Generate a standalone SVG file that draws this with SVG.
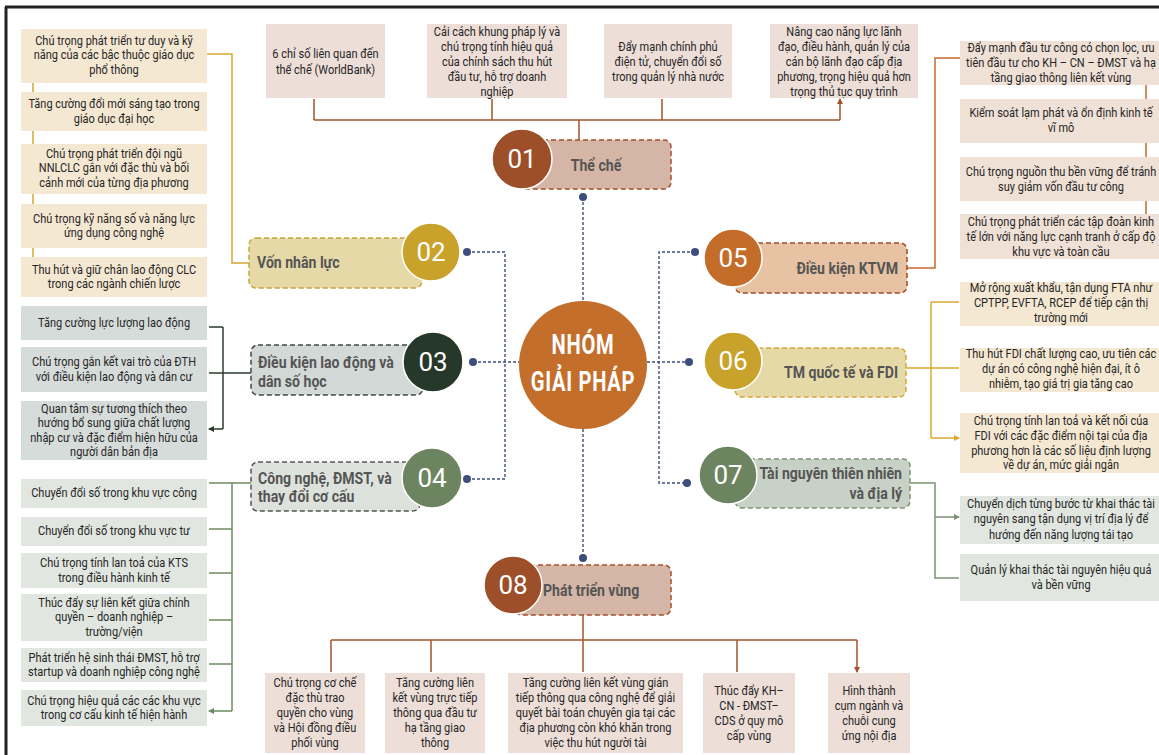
<svg xmlns="http://www.w3.org/2000/svg" width="1159" height="755" viewBox="0 0 1159 755">
<style>
.it{font-family:Roboto,"Liberation Sans",sans-serif;font-size:12.5px;fill:#262626;text-anchor:middle}
.lb{font-family:Roboto,"Liberation Sans",sans-serif;font-size:16px;font-weight:bold;fill:#555}
.num{font-family:Roboto,"Liberation Sans",sans-serif;font-size:26px;fill:#fff;text-anchor:middle}
.ttl{font-family:Roboto,"Liberation Sans",sans-serif;font-size:28px;font-weight:bold;fill:#fff;text-anchor:middle;letter-spacing:1px}
.nav{fill:none;stroke:#3E4E7C;stroke-width:1.4;stroke-dasharray:3 2}
.dot{fill:#3E4E7C}
.c{fill:none;stroke-width:1.5}
.bx{stroke-width:1.5;stroke-dasharray:5 3}
</style>
<defs>
<marker id="aBr" viewBox="0 0 6 6" refX="5" refY="3" markerWidth="6" markerHeight="6" markerUnits="userSpaceOnUse" orient="auto"><path d="M0,0 L6,3 L0,6 z" fill="#A3542E"/></marker>
<marker id="aDk" viewBox="0 0 6 6" refX="5" refY="3" markerWidth="6" markerHeight="6" markerUnits="userSpaceOnUse" orient="auto"><path d="M0,0 L6,3 L0,6 z" fill="#2C3B2F"/></marker>
<marker id="aGr" viewBox="0 0 6 6" refX="5" refY="3" markerWidth="6" markerHeight="6" markerUnits="userSpaceOnUse" orient="auto"><path d="M0,0 L6,3 L0,6 z" fill="#6E8A62"/></marker>
<marker id="aYe" viewBox="0 0 6 6" refX="5" refY="3" markerWidth="6" markerHeight="6" markerUnits="userSpaceOnUse" orient="auto"><path d="M0,0 L6,3 L0,6 z" fill="#D9A830"/></marker>
<marker id="aG2" viewBox="0 0 6 6" refX="5" refY="3" markerWidth="6" markerHeight="6" markerUnits="userSpaceOnUse" orient="auto"><path d="M0,0 L6,3 L0,6 z" fill="#7C9473"/></marker>
</defs>
<rect x="0" y="0" width="1159" height="755" fill="#fff"/>
<path d="M5,7 H1159 M6,7 V755" fill="none" stroke="#222" stroke-width="3"/>

<g id="connectors">
<path class="nav" d="M583,197 V301 M583,429 V558"/>
<path class="nav" d="M467,252 H505 V479 H467 M473,362 H519"/>
<path class="nav" d="M695,252 H659 V483 H687 M647,362 H689"/>
<circle class="dot" cx="583" cy="197" r="4"/><circle class="dot" cx="583" cy="558" r="4"/>
<circle class="dot" cx="467" cy="252" r="4"/><circle class="dot" cx="473" cy="362" r="4"/><circle class="dot" cx="467" cy="479" r="4"/>
<circle class="dot" cx="695" cy="252" r="4"/><circle class="dot" cx="689" cy="362" r="4"/><circle class="dot" cx="687" cy="483" r="4"/>
<path class="c" stroke="#A3542E" d="M579,140 V120 M314,120 H840"/>
<path class="c" stroke="#A3542E" marker-end="url(#aBr)" d="M314,120 V99 M492,120 V99 M662,120 V99 M840,120 V99"/>
<path class="c" stroke="#A3542E" d="M583,615 V640 M331,640 H857"/>
<path class="c" stroke="#A3542E" marker-end="url(#aBr)" d="M331,640 V672 M431,640 V672 M583,640 V672 M737,640 V672 M857,640 V672"/>
<path class="c" stroke="#D4A830" d="M207,54 H232 V263 H249 M33,83 V92 M33,131 V144 M33,194 V204 M33,248 V257"/>
<path class="c" stroke="#2C3B2F" d="M223,327 V429"/>
<path class="c" stroke="#2C3B2F" marker-end="url(#aDk)" d="M251,373 H209 M223,327 H209 M223,429 H209"/>
<path class="c" stroke="#6E8A62" d="M232,483 V711"/>
<path class="c" stroke="#6E8A62" marker-end="url(#aGr)" d="M251,483 H209 M232,529 H209 M232,573 H209 M232,620 H209 M232,664 H209 M232,711 H209"/>
<path class="c" stroke="#C8692E" d="M907,268 H935 V58 H960 M1146,85 V99 M1146,143 V157 M1146,201 V214"/>
<path class="c" stroke="#D9A830" d="M931,302 V438"/>
<path class="c" stroke="#D9A830" marker-end="url(#aYe)" d="M906,368 H959 M931,302 H959 M931,438 H959"/>
<path class="c" stroke="#7C9473" marker-end="url(#aG2)" d="M910,483 H935 V578 H959 M935,517 H959"/>
</g>

<g id="center">
<circle cx="583" cy="365" r="64" fill="#C46E2B"/>
<text class="ttl" transform="translate(583,0) scale(0.72,1)"><tspan x="0" y="354">NHÓM</tspan><tspan x="0" y="391">GIẢI PHÁP</tspan></text>
</g>

<g id="n01">
<rect class="bx" x="520" y="140" width="151" height="49" rx="7" fill="#D5B6A6" stroke="#A2502A"/>
<circle cx="522" cy="159" r="30" fill="#9C4F28" stroke="#fff" stroke-width="1.5"/>
<text class="num" x="522" y="168">01</text>
<text class="lb" text-anchor="middle" transform="translate(596,0) scale(0.88,1)" x="0" y="171">Thể chế</text>
</g>

<g id="n02">
<rect class="bx" x="249" y="238" width="173" height="50" rx="7" fill="#E6D9A8" stroke="#C9A43A"/>
<circle cx="431" cy="252" r="29" fill="#C9A22C" stroke="#fff" stroke-width="1.5"/>
<text class="num" x="431" y="261">02</text>
<text class="lb" transform="translate(257,0) scale(0.88,1)" x="0" y="268">Vốn nhân lực</text>
</g>

<g id="n03">
<rect class="bx" x="251" y="345" width="172" height="50" rx="7" fill="#D3D9D6" stroke="#444"/>
<circle cx="433" cy="362" r="30" fill="#263829" stroke="#fff" stroke-width="1.5"/>
<text class="num" x="433" y="371">03</text>
<text class="lb" transform="translate(258,0) scale(0.88,1)"><tspan x="0" y="368">Điều kiện lao động và</tspan><tspan x="0" y="387">dân số học</tspan></text>
</g>

<g id="n04">
<rect class="bx" x="251" y="462" width="169" height="49" rx="7" fill="#DDE3DC" stroke="#555"/>
<circle cx="432" cy="478" r="30" fill="#6D8460" stroke="#fff" stroke-width="1.5"/>
<text class="num" x="432" y="487">04</text>
<text class="lb" transform="translate(258,0) scale(0.88,1)"><tspan x="0" y="484">Công nghệ, ĐMST, và</tspan><tspan x="0" y="502">thay đổi cơ cấu</tspan></text>
</g>

<g id="n05">
<rect class="bx" x="735" y="243" width="172" height="50" rx="7" fill="#E7C3A3" stroke="#A24B25"/>
<circle cx="733" cy="258" r="29" fill="#C46D2A" stroke="#fff" stroke-width="1.5"/>
<text class="num" x="733" y="267">05</text>
<text class="lb" text-anchor="end" transform="translate(898,0) scale(0.88,1)" x="0" y="274">Điều kiện KTVM</text>
</g>

<g id="n06">
<rect class="bx" x="735" y="348" width="171" height="49" rx="7" fill="#E6D9A8" stroke="#D1A83A"/>
<circle cx="733" cy="361" r="29" fill="#C9A22C" stroke="#fff" stroke-width="1.5"/>
<text class="num" x="733" y="370">06</text>
<text class="lb" text-anchor="end" transform="translate(898,0) scale(0.88,1)" x="0" y="378">TM quốc tế và FDI</text>
</g>

<g id="n07">
<rect class="bx" x="735" y="459" width="175" height="49" rx="7" fill="#C8D1C5" stroke="#7C9473"/>
<circle cx="728" cy="475" r="29" fill="#6D8460" stroke="#fff" stroke-width="1.5"/>
<text class="num" x="728" y="484">07</text>
<text class="lb" text-anchor="end" transform="translate(902,0) scale(0.88,1)"><tspan x="0" y="479">Tài nguyên thiên nhiên</tspan><tspan x="0" y="499">và địa lý</tspan></text>
</g>

<g id="n08">
<rect class="bx" x="515" y="565" width="156" height="50" rx="7" fill="#D5B6A6" stroke="#A2502A"/>
<circle cx="513" cy="585" r="29" fill="#9C4F28" stroke="#fff" stroke-width="1.5"/>
<text class="num" x="513" y="594">08</text>
<text class="lb" transform="translate(543,0) scale(0.88,1)" x="0" y="596">Phát triển vùng</text>
</g>

<g id="t1"><rect x="266" y="24" width="119" height="74" fill="#EDDED8"/><text class="it" transform="translate(325.5,0) scale(0.88,1)"><tspan x="0" y="58">6 chỉ số liên quan đến</tspan><tspan x="0" y="74">thể chế (WorldBank)</tspan></text></g>
<g id="t2"><rect x="427" y="24" width="140" height="74" fill="#EDDED8"/><text class="it" transform="translate(497,0) scale(0.88,1)"><tspan x="0" y="36">Cải cách khung pháp lý và</tspan><tspan x="0" y="51">chú trọng tính hiệu quả</tspan><tspan x="0" y="66">của chính sách thu hút</tspan><tspan x="0" y="81">đầu tư, hỗ trợ doanh</tspan><tspan x="0" y="96">nghiệp</tspan></text></g>
<g id="t3"><rect x="604" y="24" width="128" height="74" fill="#EDDED8"/><text class="it" transform="translate(668,0) scale(0.88,1)"><tspan x="0" y="51">Đẩy mạnh chính phủ</tspan><tspan x="0" y="66">điện tử, chuyển đổi số</tspan><tspan x="0" y="81">trong quản lý nhà nước</tspan></text></g>
<g id="t4"><rect x="770" y="24" width="148" height="74" fill="#EDDED8"/><text class="it" transform="translate(844,0) scale(0.88,1)"><tspan x="0" y="36">Nâng cao năng lực lãnh</tspan><tspan x="0" y="51">đạo, điều hành, quản lý của</tspan><tspan x="0" y="66">cán bộ lãnh đạo cấp địa</tspan><tspan x="0" y="81">phương, trọng hiệu quả hơn</tspan><tspan x="0" y="96">trọng thủ tục quy trình</tspan></text></g>

<g id="v1"><rect x="21" y="29" width="186" height="54" fill="#F5E8D3"/><text class="it" transform="translate(114,0) scale(0.88,1)"><tspan x="0" y="45">Chú trọng phát triển tư duy và kỹ</tspan><tspan x="0" y="59.5">năng của các bậc thuộc giáo dục</tspan><tspan x="0" y="74">phổ thông</tspan></text></g>
<g id="v2"><rect x="21" y="92" width="186" height="39" fill="#F5E8D3"/><text class="it" transform="translate(114,0) scale(0.88,1)"><tspan x="0" y="108.5">Tăng cường đổi mới sáng tạo trong</tspan><tspan x="0" y="123">giáo dục đại học</tspan></text></g>
<g id="v3"><rect x="21" y="144" width="186" height="50" fill="#F5E8D3"/><text class="it" transform="translate(114,0) scale(0.88,1)"><tspan x="0" y="158">Chú trọng phát triển đội ngũ</tspan><tspan x="0" y="172.5">NNLCLC gắn với đặc thù và bối</tspan><tspan x="0" y="187">cảnh mới của từng địa phương</tspan></text></g>
<g id="v4"><rect x="21" y="204" width="186" height="44" fill="#F5E8D3"/><text class="it" transform="translate(114,0) scale(0.88,1)"><tspan x="0" y="223">Chú trọng kỹ năng số và năng lực</tspan><tspan x="0" y="237.5">ứng dụng công nghệ</tspan></text></g>
<g id="v5"><rect x="21" y="257" width="186" height="40" fill="#F5E8D3"/><text class="it" transform="translate(114,0) scale(0.88,1)"><tspan x="0" y="274">Thu hút và giữ chân lao động CLC</tspan><tspan x="0" y="288.5">trong các ngành chiến lược</tspan></text></g>

<g id="l1"><rect x="21" y="306" width="186" height="34" fill="#D6DCDA"/><text class="it" transform="translate(114,0) scale(0.88,1)" x="0" y="327">Tăng cường lực lượng lao động</text></g>
<g id="l2"><rect x="21" y="347" width="186" height="45" fill="#D6DCDA"/><text class="it" transform="translate(114,0) scale(0.88,1)"><tspan x="0" y="366.5">Chú trọng gắn kết vai trò của ĐTH</tspan><tspan x="0" y="381">với điều kiện lao động và dân cư</tspan></text></g>
<g id="l3"><rect x="21" y="401" width="186" height="59" fill="#D6DCDA"/><text class="it" transform="translate(114,0) scale(0.88,1)"><tspan x="0" y="413">Quan tâm sự tương thích theo</tspan><tspan x="0" y="427.5">hướng bổ sung giữa chất lượng</tspan><tspan x="0" y="442">nhập cư và đặc điểm hiện hữu của</tspan><tspan x="0" y="456.5">người dân bản địa</tspan></text></g>

<g id="c1"><rect x="21" y="479" width="186" height="29" fill="#E1E6E0"/><text class="it" transform="translate(114,0) scale(0.88,1)" x="0" y="497.5">Chuyển đổi số trong khu vực công</text></g>
<g id="c2"><rect x="21" y="517" width="186" height="29" fill="#E1E6E0"/><text class="it" transform="translate(114,0) scale(0.88,1)" x="0" y="535.5">Chuyển đổi số trong khu vực tư</text></g>
<g id="c3"><rect x="21" y="553" width="186" height="35" fill="#E1E6E0"/><text class="it" transform="translate(114,0) scale(0.88,1)"><tspan x="0" y="567.5">Chú trọng tính lan toả của KTS</tspan><tspan x="0" y="582">trong điều hành kinh tế</tspan></text></g>
<g id="c4"><rect x="21" y="594" width="186" height="47" fill="#E1E6E0"/><text class="it" transform="translate(114,0) scale(0.88,1)"><tspan x="0" y="607">Thúc đẩy sự liên kết giữa chính</tspan><tspan x="0" y="621.5">quyền – doanh nghiệp –</tspan><tspan x="0" y="636">trường/viện</tspan></text></g>
<g id="c5"><rect x="21" y="648" width="186" height="34" fill="#E1E6E0"/><text class="it" transform="translate(114,0) scale(0.88,1)"><tspan x="0" y="662">Phát triển hệ sinh thái ĐMST, hỗ trợ</tspan><tspan x="0" y="676.5">startup và doanh nghiệp công nghệ</tspan></text></g>
<g id="c6"><rect x="21" y="690" width="186" height="36" fill="#E1E6E0"/><text class="it" transform="translate(114,0) scale(0.88,1)"><tspan x="0" y="705">Chú trọng hiệu quả các các khu vực</tspan><tspan x="0" y="719.5">trong cơ cấu kinh tế hiện hành</tspan></text></g>

<g id="k1"><rect x="960" y="41" width="204" height="44" fill="#F0E1D7"/><text class="it" transform="translate(1061,0) scale(0.88,1)"><tspan x="0" y="52">Đẩy mạnh đầu tư công có chọn lọc, ưu</tspan><tspan x="0" y="67">tiên đầu tư cho KH – CN – ĐMST và hạ</tspan><tspan x="0" y="82">tầng giao thông liên kết vùng</tspan></text></g>
<g id="k2"><rect x="960" y="99" width="204" height="44" fill="#F0E1D7"/><text class="it" transform="translate(1061,0) scale(0.88,1)"><tspan x="0" y="117">Kiểm soát lạm phát và ổn định kinh tế</tspan><tspan x="0" y="132">vĩ mô</tspan></text></g>
<g id="k3"><rect x="960" y="157" width="204" height="44" fill="#F0E1D7"/><text class="it" transform="translate(1061,0) scale(0.88,1)"><tspan x="0" y="176">Chú trọng nguồn thu bền vững để tránh</tspan><tspan x="0" y="191">suy giảm vốn đầu tư công</tspan></text></g>
<g id="k4"><rect x="960" y="214" width="204" height="45" fill="#F0E1D7"/><text class="it" transform="translate(1061,0) scale(0.88,1)"><tspan x="0" y="226">Chú trọng phát triển các tập đoàn kinh</tspan><tspan x="0" y="241">tế lớn với năng lực cạnh tranh ở cấp độ</tspan><tspan x="0" y="256">khu vực và toàn cầu</tspan></text></g>

<g id="f1"><rect x="960" y="282" width="204" height="44" fill="#F5E8D3"/><text class="it" transform="translate(1061,0) scale(0.88,1)"><tspan x="0" y="292">Mở rộng xuất khẩu, tận dụng FTA như</tspan><tspan x="0" y="307">CPTPP, EVFTA, RCEP để tiếp cận thị</tspan><tspan x="0" y="322">trường mới</tspan></text></g>
<g id="f2"><rect x="960" y="348" width="204" height="44" fill="#F5E8D3"/><text class="it" transform="translate(1061,0) scale(0.88,1)"><tspan x="0" y="358">Thu hút FDI chất lượng cao, ưu tiên các</tspan><tspan x="0" y="373">dự án có công nghệ hiện đại, ít ô</tspan><tspan x="0" y="388">nhiễm, tạo giá trị gia tăng cao</tspan></text></g>
<g id="f3"><rect x="960" y="413" width="204" height="60" fill="#F5E8D3"/><text class="it" transform="translate(1061,0) scale(0.88,1)"><tspan x="0" y="425">Chú trọng tính lan toả và kết nối của</tspan><tspan x="0" y="440">FDI với các đặc điểm nội tại của địa</tspan><tspan x="0" y="455">phương hơn là các số liệu định lượng</tspan><tspan x="0" y="469">về dự án, mức giải ngân</tspan></text></g>

<g id="r1"><rect x="960" y="496" width="204" height="48" fill="#E1E6E0"/><text class="it" transform="translate(1061,0) scale(0.88,1)"><tspan x="0" y="508">Chuyển dịch từng bước từ khai thác tài</tspan><tspan x="0" y="523.5">nguyên sang tận dụng vị trí địa lý để</tspan><tspan x="0" y="539">hướng đến năng lượng tái tạo</tspan></text></g>
<g id="r2"><rect x="960" y="554" width="204" height="47" fill="#E1E6E0"/><text class="it" transform="translate(1061,0) scale(0.88,1)"><tspan x="0" y="574">Quản lý khai thác tài nguyên hiệu quả</tspan><tspan x="0" y="589">và bền vững</tspan></text></g>

<g id="b1"><rect x="265" y="673" width="100" height="80" fill="#EDDED8"/><text class="it" transform="translate(315,0) scale(0.88,1)"><tspan x="0" y="687">Chú trọng cơ chế</tspan><tspan x="0" y="702">đặc thù trao</tspan><tspan x="0" y="717">quyền cho vùng</tspan><tspan x="0" y="732">và Hội đồng điều</tspan><tspan x="0" y="747">phối vùng</tspan></text></g>
<g id="b2"><rect x="385" y="673" width="100" height="80" fill="#EDDED8"/><text class="it" transform="translate(435,0) scale(0.88,1)"><tspan x="0" y="687">Tăng cường liên</tspan><tspan x="0" y="702">kết vùng trực tiếp</tspan><tspan x="0" y="717">thông qua đầu tư</tspan><tspan x="0" y="732">hạ tầng giao</tspan><tspan x="0" y="747">thông</tspan></text></g>
<g id="b3"><rect x="508" y="673" width="175" height="80" fill="#EDDED8"/><text class="it" transform="translate(595.5,0) scale(0.88,1)"><tspan x="0" y="687">Tăng cường liên kết vùng gián</tspan><tspan x="0" y="702">tiếp thông qua công nghệ để giải</tspan><tspan x="0" y="717">quyết bài toán chuyên gia tại các</tspan><tspan x="0" y="732">địa phương còn khó khăn trong</tspan><tspan x="0" y="747">việc thu hút người tài</tspan></text></g>
<g id="b4"><rect x="703" y="673" width="92" height="80" fill="#EDDED8"/><text class="it" transform="translate(749,0) scale(0.88,1)"><tspan x="0" y="695.5">Thúc đẩy KH–</tspan><tspan x="0" y="710.5">CN - ĐMST–</tspan><tspan x="0" y="725.5">CDS ở quy mô</tspan><tspan x="0" y="740.5">cấp vùng</tspan></text></g>
<g id="b5"><rect x="828" y="673" width="82" height="80" fill="#EDDED8"/><text class="it" transform="translate(869,0) scale(0.88,1)"><tspan x="0" y="695.5">Hình thành</tspan><tspan x="0" y="710.5">cụm ngành và</tspan><tspan x="0" y="725.5">chuỗi cung</tspan><tspan x="0" y="740.5">ứng nội địa</tspan></text></g>
</svg>
